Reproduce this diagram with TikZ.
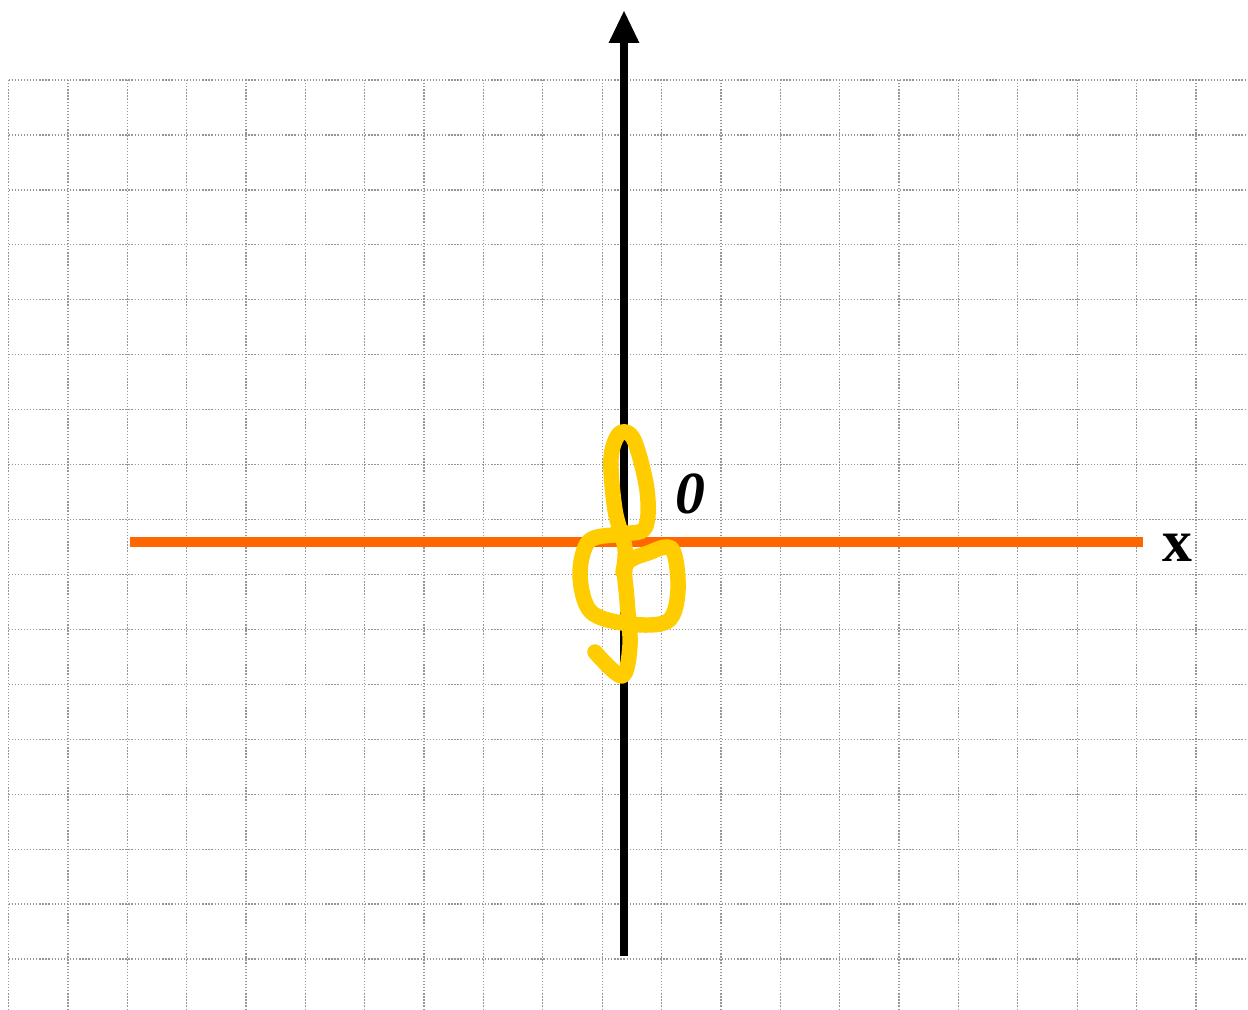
\documentclass[tikz,border=0pt]{standalone}
\usepackage{fontspec}
\setmainfont{Liberation Serif}
\usetikzlibrary{arrows.meta}
\definecolor{gridgray}{RGB}{150,150,150}
\definecolor{axisorange}{RGB}{255,102,0}
\definecolor{squiggle}{RGB}{255,204,0}
\begin{document}
\begin{tikzpicture}[x=0.02cm,y=-0.02cm,
  gridline/.style={draw=gridgray,line width=0.75pt,densely dotted},
  yaxis/.style={draw=black,line width=4.6pt,-{Triangle[length=18.7pt,width=16pt]}},
  xaxis/.style={draw=axisorange,line width=5.6pt},
  scribble/.style={draw=squiggle,line width=8.8pt,line cap=round,line join=round},
  lbl/.style={font=\fontsize{34}{38}\selectfont\bfseries,inner sep=0pt}]
\useasboundingbox[fill=white] (0,0) rectangle (1248,1009);
% grid
\foreach \k in {0,...,20}{
  \draw[gridline] ({8.5+59.37*\k},80) -- ({8.5+59.37*\k},1009);
}
\foreach \k in {0,...,16}{
  \draw[gridline] (8.5,{80+54.94*\k}) -- (1248,{80+54.94*\k});
}
% axes
\coordinate (xl) at (130,542);
\coordinate (xr) at (1143,542);
\coordinate (yb) at (624,956);
\coordinate (yt) at (624,10);
\draw[xaxis] (xl) -- (xr);
\draw[yaxis] (yb) -- (yt);
% labels
\node[lbl] (xlab) at (1177,548) {x};
\node[lbl] (zero) at (690,494) {\itshape 0};
% yellow scribble
\draw[scribble] plot[smooth,tension=0.55] coordinates {
  (595,652) (622,676) (630,645) (627,600) (626,565) (648,553) (672,549)
  (678,590) (668,621) (630,624) (591,612) (580,575) (589,541) (620,534)
  (645,528) (647,490) (634,440) (620,433) (611,458) (615,510) (625,548) (623,572)};
\end{tikzpicture}
\end{document}
